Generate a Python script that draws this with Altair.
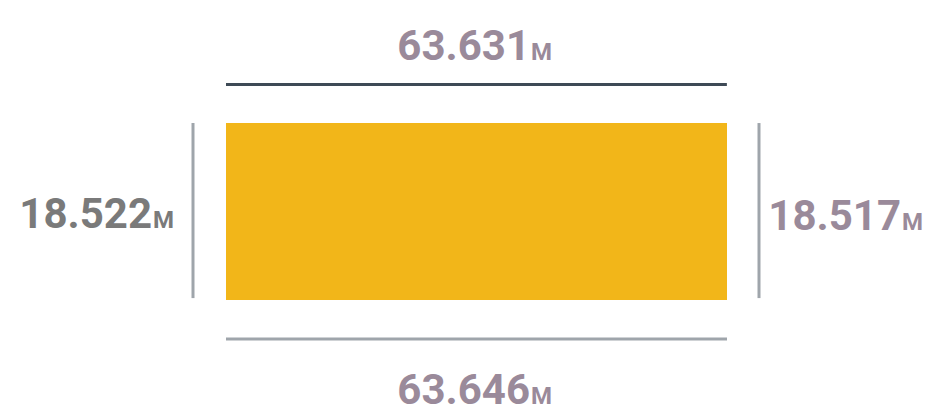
import altair as alt
import pandas as pd

# ---- data ----
sides = ["top", "bottom", "left", "right"]
values = [63.631, 63.646, 18.522, 18.517]
unit = "M"

# ---- layout (pixels of the plot area) ----
PW, PH = 918, 405
RX0, RX1 = 218, 719
RY0, RY1 = 115, 292
W = values[1]
H = values[2]
kx = (RX1 - RX0) / W
ky = (RY1 - RY0) / H
xdom = [-RX0 / kx, (PW - RX0) / kx]
ydom = [-(PH - RY1) / ky, H + RY0 / ky]

def gx(p):
    return (p - RX0) / kx

def gy(p):
    return (RY1 - p) / ky

xs = alt.Scale(domain=xdom, nice=False, zero=False)
ys = alt.Scale(domain=ydom, nice=False, zero=False)

rect_df = pd.DataFrame({"x": [0], "x2": [W], "y": [0], "y2": [H]})
rect = alt.Chart(rect_df).mark_rect(color="#F2B619").encode(
    x=alt.X("x:Q", scale=xs, axis=None), x2="x2:Q",
    y=alt.Y("y:Q", scale=ys, axis=None), y2="y2:Q")

rules_df = pd.DataFrame({
    "side": sides,
    "x": [0, 0, gx(185), W + (32 / kx)],
    "x2": [values[0], values[1], gx(185), W + (32 / kx)],
    "y": [H + 38.5 / ky, -39 / ky, 0.2, 0.2],
    "y2": [H + 38.5 / ky, -39 / ky, values[2], values[3]],
    "c": ["#3E4A56", "#9FA5AB", "#9FA5AB", "#9FA5AB"],
})
rules = alt.Chart(rules_df).mark_rule(strokeWidth=3).encode(
    x=alt.X("x:Q", scale=xs, axis=None), x2="x2:Q",
    y=alt.Y("y:Q", scale=ys, axis=None), y2="y2:Q",
    color=alt.Color("c:N", scale=None))

text_df = pd.DataFrame({
    "side": sides,
    "label": [f"{v:.3f}" for v in values],
    "unit": [unit] * 4,
    "x": [gx(522), gx(522), gx(144), gx(893)],
    "y": [gy(52), gy(396), gy(220), gy(222)],
    "c": ["#9A8A9A", "#9A8A9A", "#7A7A7A", "#9A8A9A"],
})
FONT = "Roboto, sans-serif"
nums = alt.Chart(text_df).mark_text(
    font=FONT, fontSize=42, fontWeight="bold", align="right", baseline="alphabetic"
).encode(
    x=alt.X("x:Q", scale=xs, axis=None), y=alt.Y("y:Q", scale=ys, axis=None),
    text="label:N", color=alt.Color("c:N", scale=None))
units = alt.Chart(text_df).mark_text(
    font=FONT, fontSize=24, fontWeight="bold", align="left", baseline="alphabetic", dx=1
).encode(
    x=alt.X("x:Q", scale=xs, axis=None), y=alt.Y("y:Q", scale=ys, axis=None),
    text="unit:N", color=alt.Color("c:N", scale=None))

chart = alt.layer(rect, rules, nums, units).properties(
    width=PW, height=PH, padding=0, autosize=alt.AutoSizeParams(type="none")
).configure_view(stroke=None)

chart.save("out.html", embed_options={"renderer": "svg", "actions": False})
